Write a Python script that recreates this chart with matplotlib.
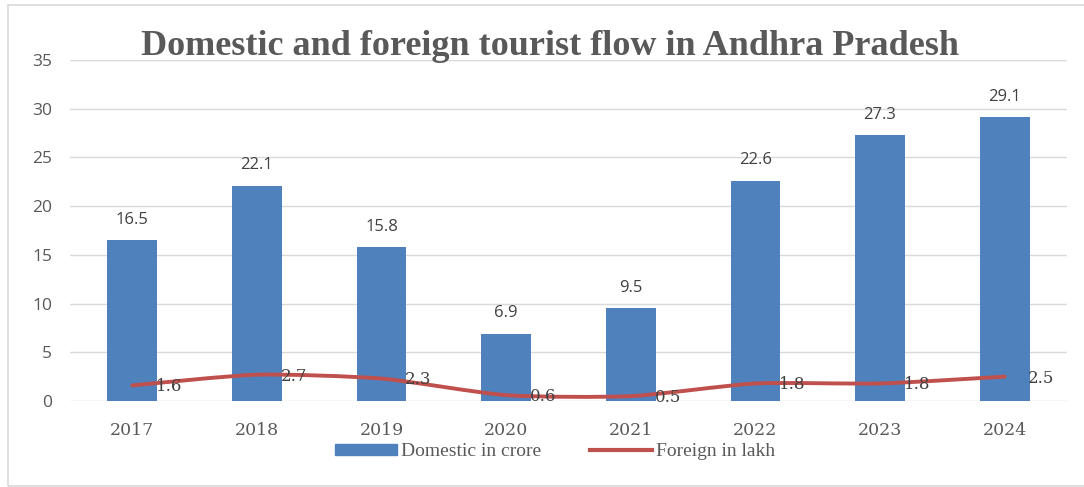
import numpy as np
import matplotlib
matplotlib.use("Agg")
from matplotlib import pyplot as plt
from matplotlib.path import Path
from matplotlib.patches import PathPatch, Rectangle
from matplotlib.lines import Line2D

years = ["2017", "2018", "2019", "2020", "2021", "2022", "2023", "2024"]
domestic = [16.5, 22.1, 15.8, 6.9, 9.5, 22.6, 27.3, 29.1]
foreign = [1.6, 2.7, 2.3, 0.6, 0.5, 1.8, 1.8, 2.5]

BLUE = "#4F81BD"
RED = "#C0504D"
GREY = "#595959"


def smooth_path(xs, ys, k=0.11):
    """Excel-like smoothed line through the points (cardinal spline as bezier)."""
    pts = np.column_stack([xs, ys]).astype(float)
    n = len(pts)
    verts = [pts[0]]
    codes = [Path.MOVETO]
    for i in range(n - 1):
        p0 = pts[max(i - 1, 0)]
        p1 = pts[i]
        p2 = pts[i + 1]
        p3 = pts[min(i + 2, n - 1)]
        c1 = p1 + (p2 - p0) * k
        c2 = p2 - (p3 - p1) * k
        verts += [c1, c2, p2]
        codes += [Path.CURVE4] * 3
    return Path(verts, codes)


fig = plt.figure(figsize=(10.84, 4.87), dpi=100)
ax = fig.add_axes([0.0646, 0.1766, 0.9197, 0.7002])

# light frame around the chart
fig.patches.append(Rectangle((8 / 1084, 1 / 487), 1.2, 481 / 487,
                             transform=fig.transFigure, fill=False,
                             edgecolor="#D9D9D9", linewidth=1.2))

x = np.arange(len(years))
ax.bar(x, domestic, width=0.4, color=BLUE, zorder=2)

for xi, v in zip(x, domestic):
    ax.annotate(f"{v}", (xi, v), xytext=(0, 9), textcoords="offset points",
                ha="center", va="bottom", fontsize=12, color="#404040",
                family="Open Sans")

path = smooth_path(x, foreign)
ax.add_patch(PathPatch(path, facecolor="none", edgecolor=RED, linewidth=2.8,
                       capstyle="round", zorder=3))

for xi, v in zip(x, foreign):
    ax.annotate(f"{v}", (xi, v), xytext=(17, -1), textcoords="offset points",
                ha="left", va="center", fontsize=12, color="#404040",
                family="DejaVu Serif", zorder=4)

ax.set_xlim(-0.5, len(years) - 0.5)
ax.set_ylim(0, 35)
ax.set_yticks(range(0, 36, 5))
ax.set_xticks(x)
ax.set_xticklabels(years, family="DejaVu Serif", fontsize=12.5, color=GREY)
for lbl in ax.get_yticklabels():
    lbl.set_family("Open Sans")
    lbl.set_fontsize(12.5)
    lbl.set_color(GREY)
ax.tick_params(axis="both", length=0)
ax.tick_params(axis="x", pad=15)
ax.tick_params(axis="y", pad=13)
ax.grid(axis="y", color="#D9D9D9", linewidth=1, zorder=0)
ax.set_axisbelow(True)
for s in ax.spines.values():
    s.set_visible(False)

fig.text(0.507, 0.905, "Domestic and foreign tourist flow in Andhra Pradesh",
         ha="center", va="center", fontsize=26, fontweight="bold",
         family="Liberation Serif", color=GREY)

handles = [Rectangle((0, 0), 1, 1, color=BLUE),
           Line2D([0], [0], color=RED, linewidth=3)]
fig.legend(handles, ["Domestic in crore", "Foreign in lakh"],
           loc="center", bbox_to_anchor=(0.512, 0.073), ncol=2, frameon=False,
           prop={"family": "Liberation Serif", "size": 14},
           handlelength=3.2, handleheight=0.5, handletextpad=0.2,
           columnspacing=2.5, labelcolor=GREY)

fig.savefig("out.png", dpi=100)
